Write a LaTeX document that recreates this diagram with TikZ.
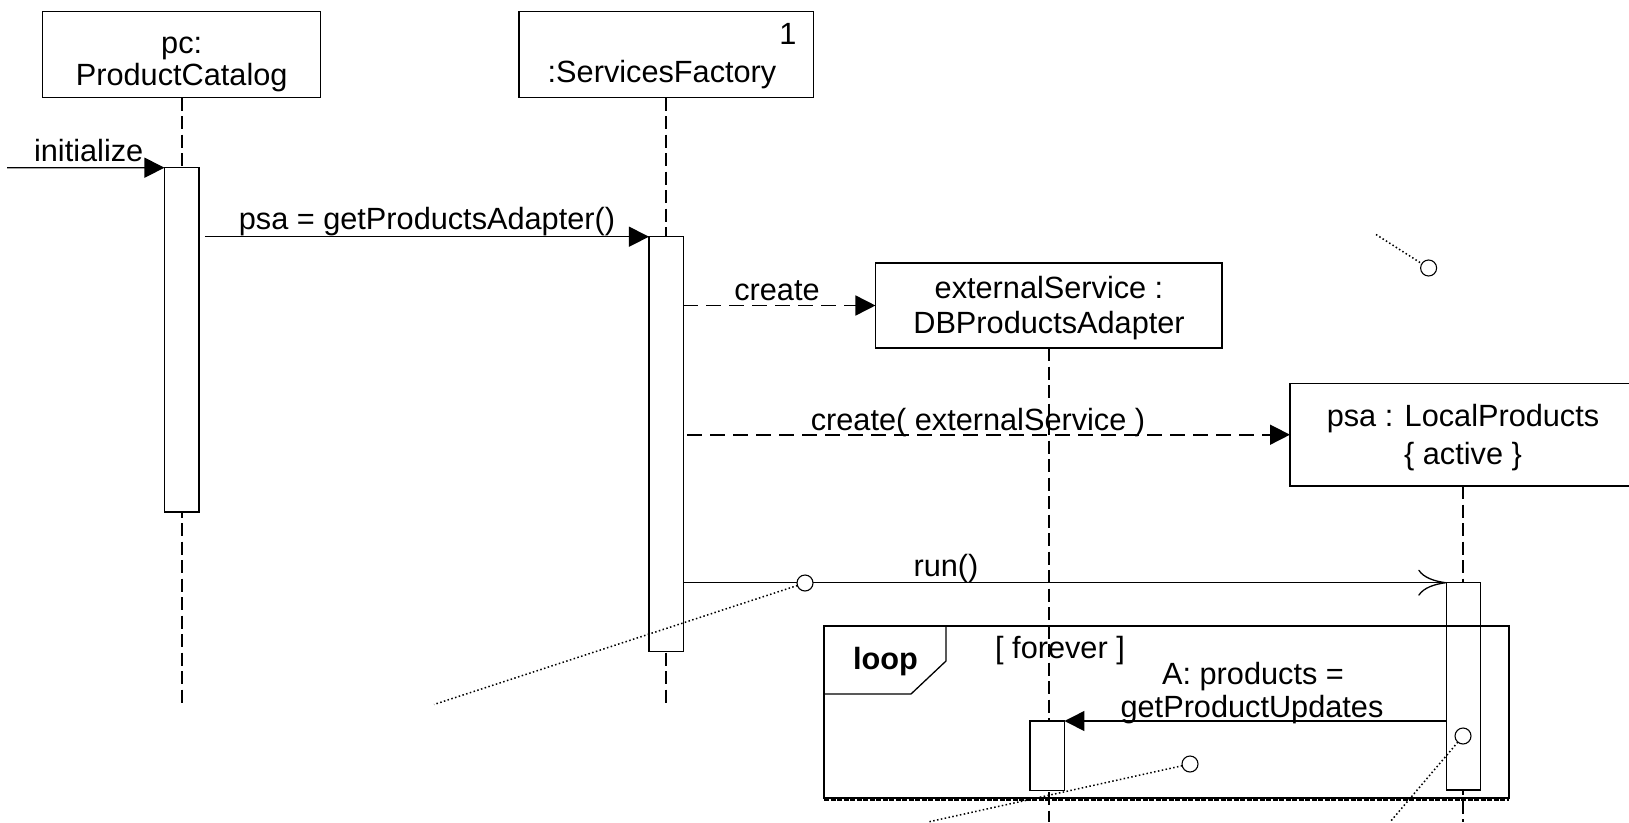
\documentclass[tikz,border=0pt]{standalone}
\usepackage{fontspec}
\setmainfont{Liberation Sans}
\usetikzlibrary{arrows.meta}
\begin{document}
\begin{tikzpicture}[x=1pt,y=-1pt,
  obj/.style={draw, rectangle, inner sep=0pt, outer sep=0pt, line width=1.3pt, fill=white},
  act/.style={draw, rectangle, inner sep=0pt, outer sep=0pt, line width=1.3pt, fill=white, minimum width=34.5pt},
  frag/.style={draw, rectangle, inner sep=0pt, outer sep=0pt, line width=1.3pt},
  life/.style={line width=1.7pt, dash pattern=on 13pt off 5.5pt},
  msg/.style={line width=1.4pt, -{Triangle[length=20pt,width=20pt]}},
  createmsg/.style={msg, line width=1.6pt, dash pattern=on 15pt off 8pt},
  asyncmsg/.style={line width=1.3pt, -{Computer Modern Rightarrow[length=28pt,width=26pt]}},
  pin/.style={draw, circle, minimum size=16pt, inner sep=0pt, outer sep=0pt, line width=1.1pt, fill=white},
  anno/.style={line width=1.5pt, dash pattern=on 1.5pt off 2.4pt},
  lbl/.style={inner sep=0pt, outer sep=0pt, anchor=base, font=\fontsize{30.7}{34}\selectfont},
  boldlbl/.style={lbl, font=\fontsize{30.7}{34}\selectfont\bfseries}]
\clip (0,0) rectangle (1629,822);
\fill[white] (0,0) rectangle (1629,822);

% lifeline heads
\node[obj, minimum width=278pt, minimum height=86pt] (pc) at (181.7,54.7) {};
\node[obj, minimum width=294.3pt, minimum height=86pt] (sf) at (666.2,54.7) {};
\node[obj, minimum width=346.5pt, minimum height=85pt] (ext) at (1048.7,305.5) {};
\node[obj, minimum width=346pt, minimum height=102.6pt] (psa) at (1463,434.7) {};

% lifeline ends
\coordinate (pcend) at (181.7,704.5);
\coordinate (sfend) at (666.2,704.5);
\coordinate (extend) at (1048.7,822);
\coordinate (psaend) at (1463,822);

% lifelines
\draw[life] (pc.south) -- (pcend);
\draw[life] (sf.south) -- (sfend);
\draw[life] (ext.south) -- (extend);
\draw[life] (psa.south) -- (psaend);

% activations
\node[act, minimum height=344.3pt] (pcact) at (181.7,339.85) {};
\node[act, minimum height=415pt] (sfact) at (666.2,444.2) {};
\node[act, minimum height=69.3pt] (extact) at (1047.2,755.65) {};
\node[act, minimum height=207.3pt] (psaact) at (1463.5,686.35) {};

% messages
\coordinate (initstart) at (7,167.7);
\draw[msg] (initstart) -- (pcact.north west);
\draw[msg] ([xshift=6pt]pcact.east |- sfact.north) -- (sfact.north west);
\draw[createmsg] (sfact.east |- ext.west) -- (ext.west);
\draw[createmsg] ([xshift=4pt]sfact.east |- psa.west) -- (psa.west);
\draw[asyncmsg] (sfact.east |- psaact.north) -- (psaact.north west);
\draw[msg] (psaact.west |- extact.north) -- (extact.north east);

% loop fragment
\node[frag, minimum width=685pt, minimum height=172pt] (loopframe) at (1166.5,712) {};
\draw[line width=1.3pt] (824,626) -- (946,626) -- (946,661) -- (911,694) -- (824,694);
\draw[line width=2pt, dash pattern=on 5pt off 1.5pt]
  ([yshift=-2pt]loopframe.south west) -- ([yshift=-2pt]loopframe.south east);

% note anchors
\node[pin] (p1) at (805,583) {};
\coordinate (n1) at (434,704.5);
\draw[anno] (p1) -- (n1);
\coordinate (n2) at (1376,234.5);
\node[pin] (p2) at (1428.6,268) {};
\draw[anno] (n2) -- (p2);
\node[pin] (p3) at (1463,736) {};
\coordinate (n3) at (1390,822);
\draw[anno] (p3) -- (n3);
\node[pin] (p4) at (1190,764) {};
\coordinate (n4) at (928,822);
\draw[anno] (p4) -- (n4);

% texts
\node[lbl] (tpc1) at (181.7,53.3) {pc:};
\node[lbl] (tpc2) at (181.7,85) {ProductCatalog};
\node[lbl] (tsf1) at (788,44) {1};
\node[lbl] (tsf2) at (662,82) {:ServicesFactory};
\node[lbl] (text1) at (1049,298) {externalService :};
\node[lbl] (text2) at (1049,333) {DBProductsAdapter};
\node[lbl] (tpsa1) at (1463,426) {psa : LocalProducts};
\node[lbl] (tpsa2) at (1463,464) {\{ active \}};
\node[lbl] (tinit) at (88.7,161) {initialize};
\node[lbl] (tgpa) at (427,229) {psa = getProductsAdapter()};
\node[lbl] (tcreate) at (777,300) {create};
\node[lbl] (tcreate2) at (978,430) {create( externalService )};
\node[lbl] (trun) at (946,576) {run()};
\node[boldlbl] (tloop) at (885.5,669) {loop};
\node[lbl] (tguard) at (1060,658) {[ forever ]};
\node[lbl] (tgpu1) at (1253,684) {A: products =};
\node[lbl] (tgpu2) at (1252,717) {getProductUpdates};
\end{tikzpicture}
\end{document}
